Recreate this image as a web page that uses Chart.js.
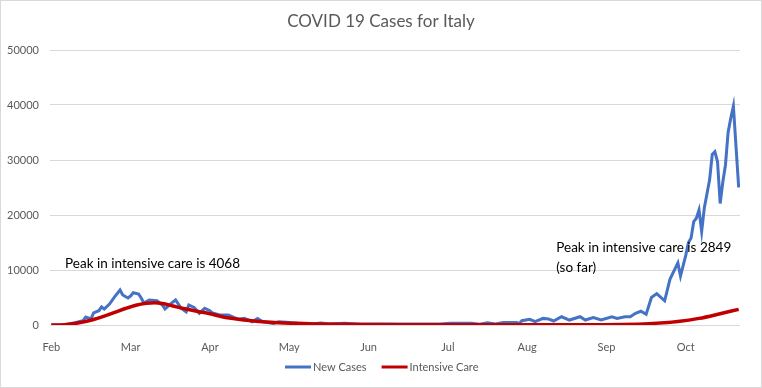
<!DOCTYPE html>
<html>
<head>
<meta charset="utf-8">
<script src="https://cdn.jsdelivr.net/npm/chart.js@4.4.1/dist/chart.umd.min.js"></script>
<style>
  html, body { margin: 0; padding: 0; background: #fff; }
  #wrap { width: 762px; height: 388px; }
</style>
</head>
<body>
<div id="wrap"><canvas id="myChart" width="762" height="388"></canvas></div>
<script>
// Axis labels, one every 30 days starting at day 0
const monthLabels = ['Feb', 'Mar', 'Apr', 'May', 'Jun', 'Jul', 'Aug', 'Sep', 'Oct'];
const yTicks = [0, 10000, 20000, 30000, 40000, 50000];

// New cases (day index, value)
const caseDay = [0, 5, 9, 12, 13, 15, 16, 18, 19, 20, 22, 24, 26, 27, 29, 30, 31, 33, 34, 35, 37, 40, 42, 43, 45, 47, 49, 51, 52, 54, 56, 58, 60, 61, 64, 67, 69, 71, 73, 76, 78, 80, 84, 86, 89, 93, 98, 102, 105, 111, 117, 124, 132, 139, 147, 151, 155, 159, 162, 165, 168, 171, 176, 177, 178, 181, 183, 186, 188, 190, 193, 196, 200, 202, 205, 208, 212, 214, 217, 219, 221, 223, 225, 227, 229, 232, 234, 237, 238, 240, 241, 242, 243, 244, 245, 246, 247, 249, 250, 251, 252, 253, 254, 255, 256, 257, 258, 260];
const newCases = [0, 50, 400, 800, 1450, 1100, 2200, 2600, 3300, 2900, 3800, 5150, 6350, 5450, 4900, 5270, 5870, 5640, 4900, 4000, 4550, 4400, 3640, 2900, 3800, 4550, 3100, 2400, 3640, 3200, 2120, 3030, 2600, 2180, 1800, 1800, 1400, 1040, 1200, 600, 1200, 600, 300, 600, 500, 300, 150, 350, 200, 300, 150, 200, 200, 200, 180, 300, 300, 300, 150, 420, 200, 450, 450, 250, 780, 1040, 600, 1200, 1100, 730, 1500, 900, 1500, 900, 1330, 900, 1500, 1200, 1500, 1500, 2120, 2500, 1950, 5000, 5700, 4400, 8300, 11300, 8900, 12700, 15000, 15800, 18800, 19400, 20900, 17000, 21300, 26400, 31000, 31500, 29700, 22100, 26000, 29100, 35000, 37600, 39800, 25000];

// Intensive care (day index, value)
const icuDay = [0, 5, 10, 16, 20, 24, 28, 32, 36, 39, 42, 46, 50, 55, 60, 65, 70, 75, 80, 86, 93, 100, 110, 120, 135, 150, 170, 190, 205, 215, 226, 237, 245, 253, 260];
const intensiveCare = [0, 60, 350, 1000, 1600, 2300, 3000, 3600, 3950, 4068, 3900, 3450, 3000, 2500, 2050, 1450, 1100, 800, 580, 400, 300, 200, 130, 90, 60, 40, 40, 45, 60, 100, 250, 650, 1200, 2050, 2849];

const notes = [
  { day: 5.2, value: 11100, lines: ['Peak in intensive care is 4068'] },
  { day: 191, value: 14000, lines: ['Peak in intensive care is 2849', '(so far)'] }
];

const toPoints = (xs, ys) => xs.map((x, i) => ({ x: x, y: ys[i] }));

const FONT = 'Lato, "Open Sans", sans-serif';

// Frame, title, legend and the two text notes
const decor = {
  id: 'decor',
  beforeDraw(chart) {
    const c = chart.ctx;
    c.save();
    c.fillStyle = '#fff';
    c.fillRect(0, 0, chart.width, chart.height);
    c.strokeStyle = '#d9d9d9';
    c.lineWidth = 1;
    c.strokeRect(0.5, 0.5, chart.width - 1, chart.height - 1);
    c.restore();
  },
  afterDraw(chart) {
    const c = chart.ctx;
    const xs = chart.scales.x, ys = chart.scales.y;
    c.save();
    c.fillStyle = '#595959';
    c.font = '17px ' + FONT;
    c.textAlign = 'center';
    c.textBaseline = 'middle';
    c.fillText('COVID 19 Cases for Italy', chart.width / 2, 22);

    // legend
    c.font = '11px ' + FONT;
    c.textAlign = 'left';
    let x = 285;
    chart.data.datasets.forEach(ds => {
      c.strokeStyle = ds.borderColor;
      c.lineWidth = 3;
      c.beginPath();
      c.moveTo(x, 367);
      c.lineTo(x + 26, 367);
      c.stroke();
      c.fillStyle = '#595959';
      c.fillText(ds.label, x + 28, 367);
      x += 28 + c.measureText(ds.label).width + 15;
    });

    // notes
    c.fillStyle = '#000';
    c.font = '13.5px ' + FONT;
    notes.forEach(n => {
      const px = xs.getPixelForValue(n.day);
      const py = ys.getPixelForValue(n.value);
      n.lines.forEach((t, k) => c.fillText(t, px, py + k * 20));
    });
    c.restore();
  }
};

const ctx = document.getElementById('myChart').getContext('2d');
const myChart = new Chart(ctx, {
  type: 'line',
  data: {
    datasets: [{
      label: 'New Cases',
      data: toPoints(caseDay, newCases),
      borderColor: '#4472C4',
      backgroundColor: '#4472C4',
      borderWidth: 3,
      pointRadius: 0,
      tension: 0,
      order: 1
    }, {
      label: 'Intensive Care',
      data: toPoints(icuDay, intensiveCare),
      borderColor: '#C00000',
      backgroundColor: '#C00000',
      borderWidth: 3.5,
      pointRadius: 0,
      cubicInterpolationMode: 'monotone',
      order: 0
    }]
  },
  options: {
    responsive: false,
    animation: false,
    layout: { padding: { top: 50, right: 22, bottom: 33, left: 0 } },
    plugins: {
      legend: { display: false },
      title: { display: false },
      tooltip: { enabled: false }
    },
    scales: {
      x: {
        type: 'linear',
        min: -0.5,
        max: 260.5,
        grid: { display: false },
        border: { display: false },
        afterFit: s => { s.height = 30; },
        afterBuildTicks: s => { s.ticks = monthLabels.map((m, i) => ({ value: i * 30 })); },
        ticks: {
          autoSkip: false,
          maxRotation: 0,
          padding: 8,
          color: '#595959',
          font: { family: FONT, size: 11 },
          callback: v => monthLabels[Math.round(v / 30)]
        }
      },
      y: {
        min: 0,
        max: 50000,
        afterFit: s => { s.width = 50; },
        afterBuildTicks: s => { s.ticks = yTicks.map(v => ({ value: v })); },
        grid: { color: '#d9d9d9', drawTicks: false },
        border: { display: false },
        ticks: {
          padding: 11,
          color: '#595959',
          font: { family: FONT, size: 11 },
          callback: v => String(v)
        }
      }
    }
  },
  plugins: [decor]
});
</script>
</body>
</html>
